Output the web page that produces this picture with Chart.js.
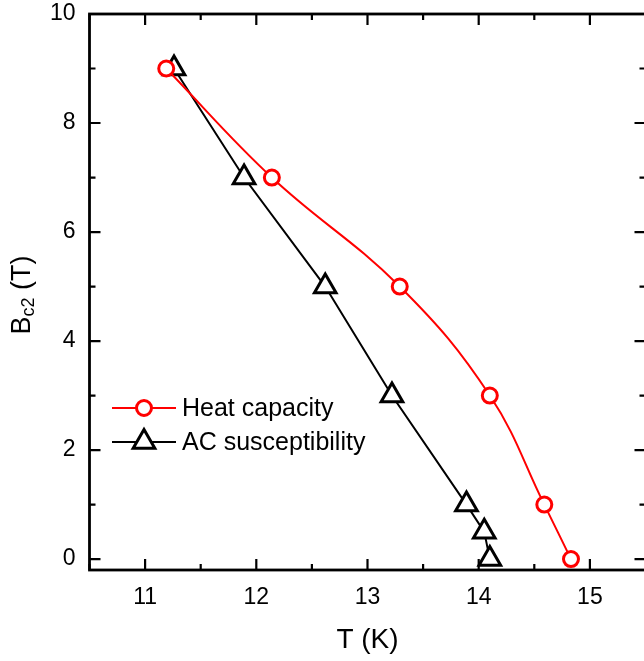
<!DOCTYPE html>
<html lang="en">
<head>
<meta charset="UTF-8">
<title>Bc2 vs T</title>
<style>
  html, body { margin: 0; padding: 0; background: #fff; overflow: hidden; }
  canvas { display: block; }
</style>
</head>
<body>
<canvas id="myChart" width="650" height="661"></canvas>
<script src="https://cdn.jsdelivr.net/npm/chart.js"></script>
<script>
// upper critical field from heat capacity and AC susceptibility
const heatT = [11.19, 12.14, 13.29, 14.10, 14.59, 14.83];
const heatB = [9, 7, 5, 3, 1, 0];
const acT = [11.26, 11.89, 12.62, 13.22, 13.89, 14.05, 14.10];
const acB = [9, 7, 5, 3, 1, 0.5, 0];

const xTicks = [11, 12, 13, 14, 15];
const xMinor = [10.5, 11.5, 12.5, 13.5, 14.5, 15.5];
const yTicks = [0, 2, 4, 6, 8, 10];
const yMinor = [1, 3, 5, 7, 9];

const FONT = '"Liberation Sans", Arial, sans-serif';

function toXY(xs, ys) {
  return xs.map((x, i) => ({ x: x, y: ys[i] }));
}

function triangle(ctx, x, y, r) {
  ctx.beginPath();
  for (let k = 0; k < 3; k++) {
    const a = k * 2 * Math.PI / 3;
    const px = x + Math.sin(a) * r;
    const py = y - Math.cos(a) * r;
    if (k === 0) ctx.moveTo(px, py); else ctx.lineTo(px, py);
  }
  ctx.closePath();
}

// frame with inward ticks on all four sides
const frame = {
  id: 'frame',
  beforeDatasetsDraw(chart) {
    const { ctx, chartArea: a, scales: { x, y } } = chart;
    ctx.save();
    ctx.strokeStyle = '#000';
    ctx.lineWidth = 2.2;
    ctx.beginPath();
    const tick = (vals, len) => {
      vals.forEach(v => {
        const px = x.getPixelForValue(v);
        ctx.moveTo(px, a.bottom); ctx.lineTo(px, a.bottom - len);
        ctx.moveTo(px, a.top); ctx.lineTo(px, a.top + len);
      });
    };
    const ytick = (vals, len) => {
      vals.forEach(v => {
        const py = y.getPixelForValue(v);
        ctx.moveTo(a.left, py); ctx.lineTo(a.left + len, py);
        ctx.moveTo(a.right, py); ctx.lineTo(a.right - len, py);
      });
    };
    tick(xTicks, 11); tick(xMinor, 6);
    ytick(yTicks, 11); ytick(yMinor, 6);
    ctx.stroke();
    ctx.lineWidth = 2.8;
    ctx.strokeRect(a.left, a.top, a.right - a.left, a.bottom - a.top);
    ctx.restore();
  },
  afterDraw(chart) {
    const { ctx } = chart;
    ctx.save();
    // y axis title with subscript
    ctx.translate(23, 295);
    ctx.rotate(-Math.PI / 2);
    ctx.fillStyle = '#000';
    ctx.textBaseline = 'middle';
    const parts = [['B', 27, 0], ['c2', 18, 6], [' (T)', 27, 0]];
    let w = 0;
    parts.forEach(p => { ctx.font = p[1] + 'px ' + FONT; w += ctx.measureText(p[0]).width; });
    let cx = -w / 2;
    parts.forEach(p => {
      ctx.font = p[1] + 'px ' + FONT;
      ctx.fillText(p[0], cx, p[2]);
      cx += ctx.measureText(p[0]).width;
    });
    ctx.restore();

    // legend
    ctx.save();
    const rows = [
      { ds: chart.data.datasets[0], y: 408 },
      { ds: chart.data.datasets[1], y: 442 }
    ];
    rows.forEach(r => {
      const c = r.ds.borderColor;
      ctx.strokeStyle = c;
      ctx.lineWidth = 2;
      ctx.beginPath();
      ctx.moveTo(112, r.y); ctx.lineTo(176, r.y);
      ctx.stroke();
      ctx.lineWidth = 3;
      ctx.fillStyle = '#fff';
      if (r.ds.pointStyle === 'triangle') {
        triangle(ctx, 144, r.y, r.ds.pointRadius);
      } else {
        ctx.beginPath();
        ctx.arc(144, r.y, r.ds.pointRadius, 0, 2 * Math.PI);
      }
      ctx.fill();
      ctx.stroke();
      ctx.fillStyle = '#000';
      ctx.font = '25px ' + FONT;
      ctx.textBaseline = 'middle';
      ctx.fillText(r.ds.label, 182, r.y + 1);
    });
    ctx.restore();
  }
};

new Chart(document.getElementById('myChart'), {
  type: 'scatter',
  data: {
    datasets: [
      {
        label: 'Heat capacity',
        data: toXY(heatT, heatB),
        showLine: true,
        borderColor: '#ff0000',
        backgroundColor: '#fff',
        borderWidth: 2,
        pointStyle: 'circle',
        pointRadius: 7.5,
        pointBorderWidth: 3,
        tension: 0.4,
        clip: false
      },
      {
        label: 'AC susceptibility',
        data: toXY(acT, acB),
        showLine: true,
        borderColor: '#000',
        backgroundColor: '#fff',
        borderWidth: 2,
        pointStyle: 'triangle',
        pointRadius: 12.5,
        pointBorderWidth: 3,
        tension: 0,
        clip: false
      }
    ]
  },
  options: {
    responsive: false,
    animation: false,
    layout: { autoPadding: false, padding: { left: 0, top: 14, right: 4.5, bottom: 0 } },
    plugins: { legend: { display: false }, tooltip: { enabled: false } },
    scales: {
      x: {
        type: 'linear',
        min: 10.5,
        max: 15.5,
        afterBuildTicks: s => { s.ticks = xTicks.map(v => ({ value: v })); },
        afterFit: s => { s.height = 91; s.paddingLeft = 0; s.paddingRight = 0; },
        grid: { display: false, drawTicks: false },
        border: { display: false },
        ticks: { color: '#000', font: { family: FONT, size: 23 }, padding: 14 },
        title: { display: true, text: 'T (K)', color: '#000', font: { family: FONT, size: 28 }, padding: { top: 4 } }
      },
      y: {
        type: 'linear',
        min: -0.2,
        max: 10,
        afterBuildTicks: s => { s.ticks = yTicks.map(v => ({ value: v })); },
        afterFit: s => { s.width = 89.5; s.paddingTop = 0; s.paddingBottom = 0; },
        grid: { display: false, drawTicks: false },
        border: { display: false },
        ticks: { color: '#000', font: { family: FONT, size: 23 }, padding: 14 }
      }
    }
  },
  plugins: [frame]
});
</script>
</body>
</html>
